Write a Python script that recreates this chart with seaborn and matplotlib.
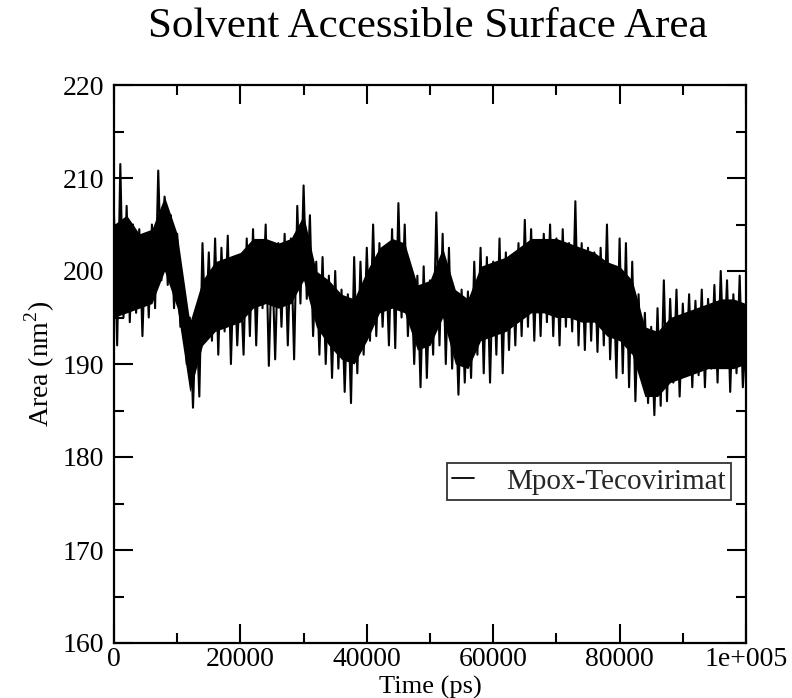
import numpy as np
import pandas as pd
import matplotlib
matplotlib.use("Agg")
import matplotlib.pyplot as plt
import seaborn as sns
from matplotlib.ticker import MultipleLocator, FixedLocator, FixedFormatter

# ---- data (nm^2) ----
# spike extremes: one peak and one trough per 1000 ps
peak_time = [k * 1000 for k in range(100)]
trough_time = [k * 1000 + 500 for k in range(100)]
area_peaks = [
    206, 211.5, 207, 205, 204.5, 203.5, 205, 210.8, 208, 206,
    204, 197, 195, 196, 203, 202, 203.5, 202.5, 203.8, 201.5,
    199.5, 203.5, 204.5, 203, 205, 202, 203, 204, 203.5, 207,
    209.2, 206, 201, 201.5, 199.5, 200, 198, 197.5, 201.5, 201,
    202.5, 205, 203, 202, 204.5, 207.3, 205, 200, 199.5, 200.5,
    199, 206.3, 204, 202.5, 197.5, 198, 197.8, 201, 202.5, 201.5,
    201, 203.5, 202, 201.5, 203, 205.5, 204.5, 203, 204, 205,
    203.5, 204.5, 203, 207.5, 203, 202.5, 202, 202.5, 205, 200,
    203.5, 203, 201, 197.5, 195.5, 194, 196, 199, 197, 198,
    196.5, 197.5, 196.8, 198, 197, 198.5, 200, 199, 197.5, 199.5,
]
area_troughs = [
    192, 195, 194.5, 195.5, 193, 195, 196, 199, 198.5, 196,
    194, 190, 185.3, 186.5, 193, 192.5, 191, 193.5, 190, 192,
    191, 193, 192, 196, 189.8, 190.5, 194, 192, 190.5, 196.5,
    197, 193, 191, 190, 188.5, 189.5, 187, 185.8, 189, 191,
    192.5, 193, 194, 192, 191.7, 195, 193, 190, 187.5, 188.5,
    191, 192, 190, 189.5, 186.7, 188, 188.5, 191, 189, 188,
    191, 189, 191.5, 192, 193, 194, 192.5, 193, 194.5, 193,
    192, 194, 193.5, 192, 191.5, 192.5, 191.3, 192, 190.5, 188.5,
    189, 187.5, 186, 188.5, 185.8, 184.5, 185.5, 186, 188, 186.5,
    189, 187.5, 188.8, 187.5, 189.5, 188, 190.5, 187, 189, 187.5,
]
end_time = [100000]
end_area = [193]

# dense core band of the trace, every 2000 ps
core_time = [k * 2000 for k in range(51)]
core_upper = [
    205, 206, 204, 204.5, 208, 204, 194.5, 199, 201, 201.5,
    202, 203.5, 203.5, 203, 203.5, 206, 200, 199, 197.5, 197,
    200, 202.5, 203.5, 203, 198.5, 199, 202.5, 198, 197, 200.5,
    201, 201.5, 202.5, 203.5, 203.5, 203.5, 203, 202.5, 202, 201,
    200.5, 199, 194, 193.5, 195, 195.5, 196, 196.5, 197, 197,
    196.5,
]
core_lower = [
    195, 195.5, 196, 196.5, 200, 196, 187, 192, 193.5, 194,
    194.5, 196, 196.5, 196, 196.5, 199, 194, 192, 190.5, 190,
    192.5, 195.5, 196, 195.5, 191.5, 192, 195, 190, 189.5, 192.5,
    193, 193.5, 194.5, 195.5, 195.5, 195, 195, 194.5, 194.5, 193,
    192.5, 191, 186.5, 186.5, 188, 188.5, 189, 189.5, 189.5, 189.5,
    190,
]

series_label = "Mpox-Tecovirimat"
title_text = "Solvent Accessible Surface Area"
x_label = "Time (ps)"
y_label = "Area (nm$^2$)"
x_ticks = [0, 20000, 40000, 60000, 80000, 100000]
x_tick_labels = ["0", "20000", "40000", "60000", "80000", "1e+005"]
y_ticks = [160, 170, 180, 190, 200, 210, 220]

# interleave peaks and troughs in time order
time_vals = []
area_vals = []
for tp, ap, tt, at in zip(peak_time, area_peaks, trough_time, area_troughs):
    time_vals += [tp, tt]
    area_vals += [ap, at]
time_vals += end_time
area_vals += end_area
df = pd.DataFrame({"Time": time_vals, "Area": area_vals})

sns.set_theme(style="ticks")
plt.rcParams["font.family"] = ["Liberation Serif", "DejaVu Serif"]
plt.rcParams["mathtext.fontset"] = "custom"
plt.rcParams["mathtext.rm"] = "Liberation Serif"

fig = plt.figure(figsize=(7.92, 6.98), dpi=100)
ax = fig.add_axes([114 / 792, 55 / 698, 632 / 792, 558 / 698])

ax.fill_between(core_time, core_lower, core_upper, color="black", linewidth=0)
sns.lineplot(data=df, x="Time", y="Area", ax=ax, color="black", linewidth=1.5,
             sort=False, estimator=None, label=series_label)

ax.set_xlim(0, 100000)
ax.set_ylim(160, 220)
ax.xaxis.set_major_locator(FixedLocator(x_ticks))
ax.xaxis.set_major_formatter(FixedFormatter(x_tick_labels))
ax.xaxis.set_minor_locator(MultipleLocator(10000))
ax.yaxis.set_major_locator(FixedLocator(y_ticks))
ax.yaxis.set_minor_locator(MultipleLocator(5))

for s in ax.spines.values():
    s.set_visible(True)
    s.set_linewidth(1.6)
    s.set_color("black")
ax.tick_params(which="both", direction="in", top=True, right=True,
               color="black", width=1.5)
ax.tick_params(which="major", length=14, labelsize=20, pad=7, labelcolor="black")
ax.tick_params(which="minor", length=7.5)
ax.tick_params(axis="x", which="major", pad=3)

ax.set_xlabel(x_label, fontsize=19, labelpad=3, color="black")
ax.set_ylabel(y_label, fontsize=20, labelpad=4, color="black")
ax.grid(False)

fig.text(428 / 792, 1 - 27 / 698, title_text, ha="center", va="center",
         fontsize=31, color="black")

leg = ax.legend(loc="upper left", bbox_to_anchor=(0.527, 0.3226), borderaxespad=0,
                fontsize=21, handlelength=0.75, handletextpad=1.1, frameon=True,
                fancybox=False, edgecolor="black", borderpad=0.18)
leg.get_frame().set_linewidth(1.3)
for line in leg.get_lines():
    line.set_linewidth(1.3)

fig.savefig("out.png", dpi=100, facecolor="white")
